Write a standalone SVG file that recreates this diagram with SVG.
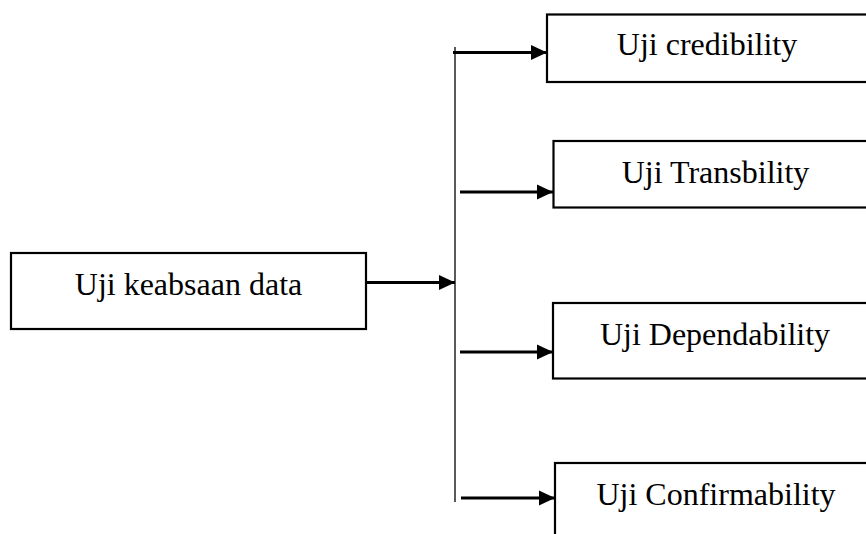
<svg xmlns="http://www.w3.org/2000/svg" width="866" height="534" viewBox="0 0 866 534">
<style>
.box{fill:#fff;stroke:#000;stroke-width:2.2}
.lbl{font-family:"Liberation Serif","Times New Roman",serif;font-size:32px;fill:#000}
.conn{stroke:#000;stroke-width:3;fill:none}
.trunk{stroke:#000;stroke-width:1.3;fill:none}
</style>
<defs>
<marker id="ah" markerUnits="userSpaceOnUse" markerWidth="16" markerHeight="16" viewBox="0 0 16 16" refX="16" refY="8" orient="auto">
<path d="M0,0.5 L16,8 L0,15.5 Z" fill="#000"/>
</marker>
</defs>
<rect width="866" height="534" fill="#fff"/>
<g id="connectors">
<line class="trunk" x1="455" y1="47" x2="455" y2="502"/>
<line class="conn" x1="363" y1="282.5" x2="455" y2="282.5" marker-end="url(#ah)"/>
<line class="conn" x1="453" y1="52.5" x2="547" y2="52.5" marker-end="url(#ah)"/>
<line class="conn" x1="460" y1="192" x2="553" y2="192" marker-end="url(#ah)"/>
<line class="conn" x1="460" y1="352" x2="553" y2="352" marker-end="url(#ah)"/>
<line class="conn" x1="461" y1="498" x2="555" y2="498" marker-end="url(#ah)"/>
</g>
<g id="node-main">
<rect class="box" x="11" y="253" width="355" height="76"/>
<text class="lbl" x="188.5" y="295" text-anchor="middle">Uji keabsaan data</text>
</g>
<g id="node-credibility">
<rect class="box" x="547" y="14.5" width="340" height="67.5"/>
<text class="lbl" x="707" y="55" text-anchor="middle">Uji credibility</text>
</g>
<g id="node-transbility">
<rect class="box" x="553.5" y="141" width="340" height="66.5"/>
<text class="lbl" x="715.5" y="183" text-anchor="middle">Uji Transbility</text>
</g>
<g id="node-dependability">
<rect class="box" x="553" y="303" width="340" height="75.5"/>
<text class="lbl" x="715" y="345" text-anchor="middle">Uji Dependability</text>
</g>
<g id="node-confirmability">
<rect class="box" x="555" y="463" width="340" height="100"/>
<text class="lbl" x="716" y="505" text-anchor="middle">Uji Confirmability</text>
</g>
</svg>
